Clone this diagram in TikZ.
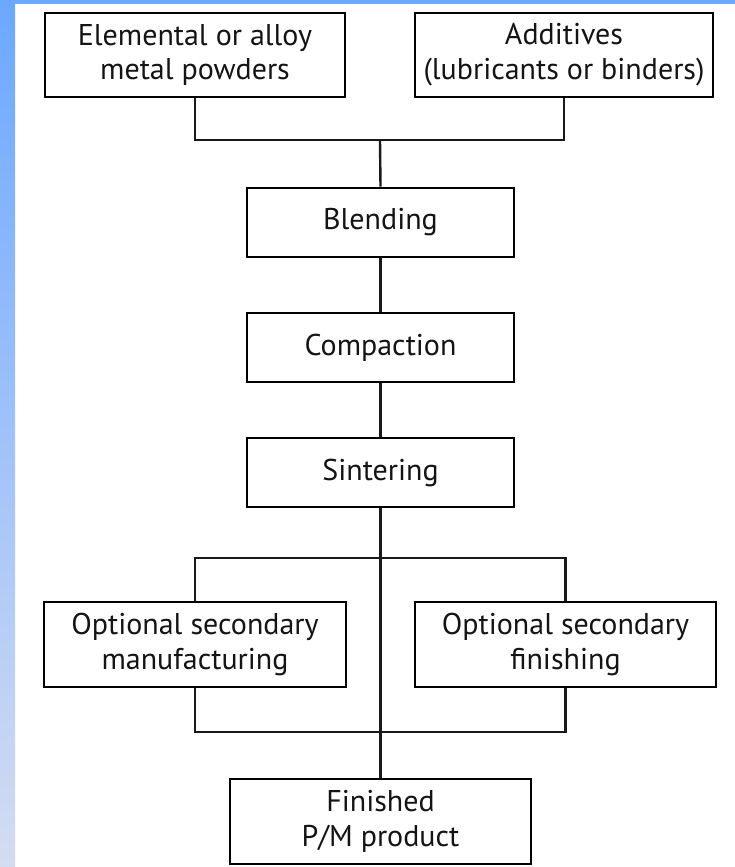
\documentclass[tikz,border=0pt]{standalone}
\usepackage{fontspec}
\setmainfont{PT Sans}
\definecolor{stripTop}{RGB}{108,168,255}
\definecolor{stripBot}{RGB}{212,220,242}
\begin{document}
\begin{tikzpicture}[x=1pt,y=-1pt,
  box/.style={draw=black, line width=2.8pt, fill=white, align=center, inner sep=0pt,
    font=\fontsize{30}{35}\selectfont, text=black!92},
  link/.style={line width=2.4pt, draw=black!90}]
\useasboundingbox (0,0) rectangle (735,867);
\fill[white] (0,0) rectangle (735,867);
\shade[top color=stripTop, bottom color=stripBot] (0,0) rectangle (15,867);
\fill[stripTop] (0,0) rectangle (735,4);
% nodes
\node[box, minimum width=300pt, minimum height=84pt] (pow) at (195,55) {Elemental or alloy\\metal powders};
\node[box, minimum width=298pt, minimum height=84pt] (add) at (564,55) {Additives\\(lubricants or binders)};
\node[box, minimum width=267pt, minimum height=69pt] (blend) at (380.5,222.5) {Blending};
\node[box, minimum width=267pt, minimum height=69pt] (comp) at (380.5,347.5) {Compaction};
\node[box, minimum width=267pt, minimum height=69pt] (sint) at (380.5,472.5) {Sintering};
\node[box, minimum width=302pt, minimum height=85pt] (man) at (195,644.5) {Optional secondary\\manufacturing};
\node[box, minimum width=301pt, minimum height=85pt] (fin) at (565.5,644.5) {Optional secondary\\finishing};
\node[box, minimum width=301pt, minimum height=85pt] (prod) at (380.5,821.5) {Finished\\P/M product};
% junction coordinates
\coordinate (j1) at (380,140);
\coordinate (j2) at (380,558);
\coordinate (j3) at (380,732);
% top merge
\draw[link] (pow.south) |- (j1) -| (add.south);
\draw[link] (j1) -- (blend.north);
\draw[link] (blend.south) -- (comp.north);
\draw[link] (comp.south) -- (sint.north);
% split and merge
\draw[link] (sint.south) -- (prod.north);
\draw[link] (man.north) |- (j2) -| (fin.north);
\draw[link] (man.south) |- (j3) -| (fin.south);
\end{tikzpicture}
\end{document}
